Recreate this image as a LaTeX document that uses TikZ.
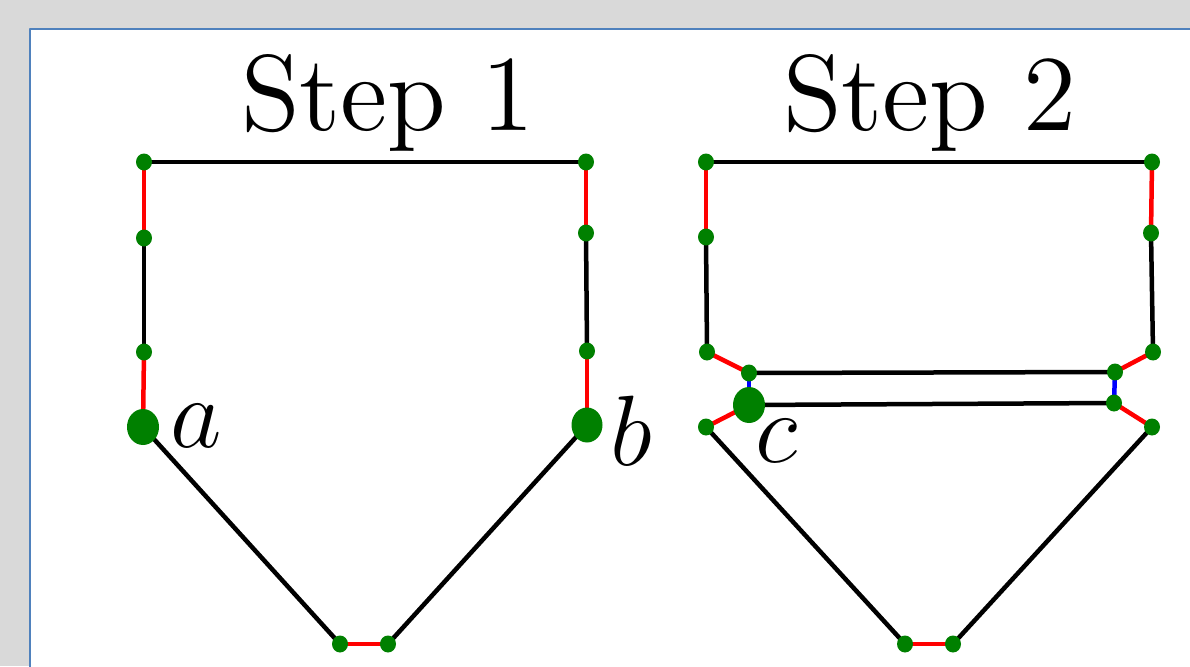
\RequirePackage{fix-cm}
\documentclass[tikz,border=0pt]{standalone}
\usepackage{tikz}
\usepackage{amsmath}
\usetikzlibrary{calc}
\definecolor{dotgreen}{RGB}{0,128,0}
\definecolor{panelblue}{RGB}{79,129,189}
\font\titlefont=cmr12 at 108pt

\begin{document}
\begin{tikzpicture}[x=1pt, y=-1pt, line cap=round, line join=round,
  seg/.style={line width=4.5pt},
  redseg/.style={line width=4.5pt, red},
  blueseg/.style={line width=4.5pt, blue},
  vtx/.style={fill=dotgreen},
  steptitle/.style={anchor=base, inner sep=0pt, font=\titlefont},
  ptlabel/.style={anchor=base west, inner sep=0pt, font=\fontsize{100}{110}\selectfont}]

\useasboundingbox (0,0) rectangle (1190,666) ;
\fill[black!15] (0,0) rectangle (1190,666) ;
\begin{scope}
\clip (0,0) rectangle (1190,666) ;
\filldraw[fill=white, draw=panelblue, line width=2pt] (30,29) rectangle (1220,700) ;
\end{scope}

% Step 1
\node[steptitle] (t1) at (388,130) {Step 1} ;

\coordinate (p1) at (144,162) ;
\coordinate (p2) at (586,162) ;
\coordinate (p3) at (144,238) ;
\coordinate (p4) at (144,352) ;
\coordinate (a)  at (143,427) ;
\coordinate (p5) at (586,233) ;
\coordinate (p6) at (587,351) ;
\coordinate (b)  at (587,425) ;
\coordinate (p7) at (340,644) ;
\coordinate (p8) at (388,644) ;

\draw[seg] (p1) -- (p2) ;
\draw[redseg] (p1) -- (p3) ;
\draw[seg] (p3) -- (p4) ;
\draw[redseg] (p4) -- (a) ;
\draw[redseg] (p2) -- (p5) ;
\draw[seg] (p5) -- (p6) ;
\draw[redseg] (p6) -- (b) ;
\draw[seg] (a) -- (p7) ;
\draw[redseg] (p7) -- (p8) ;
\draw[seg] (p8) -- (b) ;

\foreach \p in {p1,p2,p3,p4,p5,p6,p7,p8}
  \fill[vtx] (\p) ellipse (8 and 8.5) ;
\fill[vtx] (a) ellipse (16 and 18) ;
\fill[vtx] (b) ellipse (15.5 and 17.5) ;

\node[ptlabel] (la) at (170,447) {$a$} ;
\node[ptlabel] (lb) at (610,465) {$b$} ;

% Step 2
\node[steptitle] (t2) at (930,130) {Step 2} ;

\coordinate (q1)  at (706,162) ;
\coordinate (q2)  at (1152,162) ;
\coordinate (q3)  at (706,237) ;
\coordinate (q4)  at (707,352) ;
\coordinate (q5)  at (1151,233) ;
\coordinate (q6)  at (1153,352) ;
\coordinate (q7)  at (749,373) ;
\coordinate (q8)  at (1115,372) ;
\coordinate (c)   at (749,405) ;
\coordinate (q9)  at (1114,403) ;
\coordinate (q10) at (706,427) ;
\coordinate (q11) at (1152,427) ;
\coordinate (q12) at (905,644) ;
\coordinate (q13) at (953,644) ;

\draw[seg] (q1) -- (q2) ;
\draw[redseg] (q1) -- (q3) ;
\draw[seg] (q3) -- (q4) ;
\draw[redseg] (q4) -- (q7) ;
\draw[redseg] (q2) -- (q5) ;
\draw[seg] (q5) -- (q6) ;
\draw[redseg] (q6) -- (q8) ;
\draw[seg] (q7) -- (q8) ;
\draw[blueseg] (q7) -- (c) ;
\draw[blueseg] (q8) -- (q9) ;
\draw[seg] (c) -- (q9) ;
\draw[redseg] (c) -- (q10) ;
\draw[redseg] (q9) -- (q11) ;
\draw[seg] (q10) -- (q12) ;
\draw[redseg] (q12) -- (q13) ;
\draw[seg] (q13) -- (q11) ;

\foreach \p in {q1,q2,q3,q4,q5,q6,q7,q8,q9,q10,q11,q12,q13}
  \fill[vtx] (\p) ellipse (8 and 8.5) ;
\fill[vtx] (c) ellipse (16 and 18) ;

\node[ptlabel] (lc) at (755,462) {$c$} ;

\end{tikzpicture}
\end{document}
